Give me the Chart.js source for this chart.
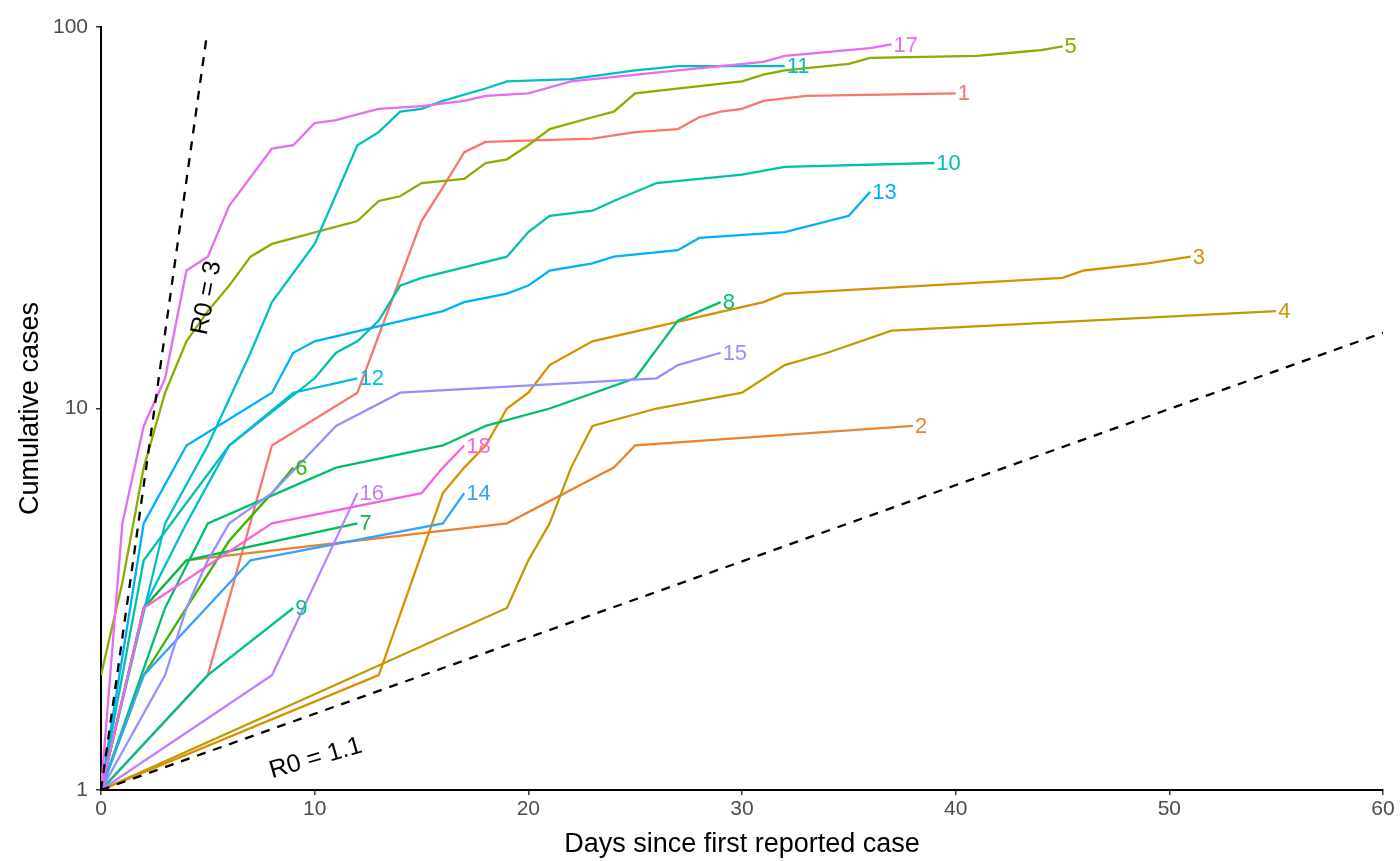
<!DOCTYPE html>
<html>
<head>
<meta charset="utf-8">
<title>Cumulative cases</title>
<script src="https://cdn.jsdelivr.net/npm/chart.js@4.4.1/dist/chart.umd.min.js"></script>
<style>
  html, body { margin: 0; padding: 0; background: #fff; }
  #wrap { width: 1400px; height: 861px; }
</style>
</head>
<body>
<div id="wrap"><canvas id="chart" width="1400" height="861"></canvas></div>
<script>
// ============================================================
// Data
// ============================================================

const seriesNames = ["1", "2", "3", "4", "5", "6", "7", "8", "9",
  "10", "11", "12", "13", "14", "15", "16", "17", "18"];

const days01 = [0, 5, 8, 12, 15, 16, 17, 18, 23, 25, 27, 28, 29, 30, 31, 33, 40];
const cases01 = [1, 2, 8, 11, 31, 38, 47, 50, 51, 53, 54, 58, 60, 61, 64, 66, 67];
const days02 = [0, 2, 4, 19, 24, 25, 38];
const cases02 = [1, 3, 4, 5, 7, 8, 9];
const days03 = [0, 13, 16, 17, 18, 19, 20, 21, 23, 31, 32, 45, 46, 49, 51];
const cases03 = [1, 2, 6, 7, 8, 10, 11, 13, 15, 19, 20, 22, 23, 24, 25];
const days04 = [0, 19, 20, 21, 22, 23, 26, 30, 32, 34, 37, 55];
const cases04 = [1, 3, 4, 5, 7, 9, 10, 11, 13, 14, 16, 18];
const days05 = [0, 1, 2, 3, 4, 5, 6, 7, 8, 12, 13, 14, 15, 17, 18, 19, 20, 21, 23, 24, 25, 28, 30, 31, 32, 35, 36, 41, 43, 44, 45];
const cases05 = [2, 3.5, 7, 11, 15, 18, 21, 25, 27, 31, 35, 36, 39, 40, 44, 45, 49, 54, 58, 60, 67, 70, 72, 75, 77, 80, 83, 84, 86, 87, 89];
const days06 = [0, 2, 4, 6, 8, 9];
const cases06 = [1, 2, 3, 4.5, 6, 7];
const days07 = [0, 2, 4, 12];
const cases07 = [1, 3, 4, 5];
const days08 = [0, 3, 5, 11, 16, 18, 21, 25, 27, 29];
const cases08 = [1, 3, 5, 7, 8, 9, 10, 12, 17, 19];
const days09 = [0, 5, 9];
const cases09 = [1, 2, 3];
const days10 = [0, 2, 6, 10, 11, 12, 13, 14, 15, 19, 20, 21, 23, 24, 26, 30, 32, 39];
const cases10 = [1, 4, 8, 12, 14, 15, 17, 21, 22, 25, 29, 32, 33, 35, 39, 41, 43, 44];
const days11 = [0, 3, 5, 7, 8, 10, 12, 13, 14, 15, 16, 18, 19, 22, 25, 27, 32];
const cases11 = [1, 5, 8, 14, 19, 27, 49, 53, 60, 61, 64, 69, 72, 73, 77, 79, 79];
const days12 = [0, 2, 4, 6, 9, 12];
const cases12 = [1, 3, 5, 8, 11, 12];
const days13 = [0, 2, 4, 8, 9, 10, 16, 17, 19, 20, 21, 23, 24, 27, 28, 32, 35, 36];
const cases13 = [1, 5, 8, 11, 14, 15, 18, 19, 20, 21, 23, 24, 25, 26, 28, 29, 32, 37];
const days14 = [0, 2, 7, 16, 17];
const cases14 = [1, 2, 4, 5, 6];
const days15 = [0, 3, 4, 5, 6, 8, 11, 14, 26, 27, 29];
const cases15 = [1, 2, 3, 4, 5, 6, 9, 11, 12, 13, 14];
const days16 = [0, 8, 12];
const cases16 = [1, 2, 6];
const days17 = [0, 1, 2, 3, 4, 5, 6, 8, 9, 10, 11, 12, 13, 15, 17, 18, 20, 22, 27, 31, 32, 36, 37];
const cases17 = [1, 5, 9, 12, 23, 25, 34, 48, 49, 56, 57, 59, 61, 62, 64, 66, 67, 72, 77, 81, 84, 88, 90];
const days18 = [0, 2, 8, 15, 16, 17];
const cases18 = [1, 3, 5, 6, 7, 8];

// reference growth lines
const r0HighDays = [0, 4.95];
const r0HighCases = [1, 95];
const r0LowDays = [0, 60];
const r0LowCases = [1, 15.8];

const xTicks = [0, 10, 20, 30, 40, 50, 60];
const yTicks = [1, 10, 100];

const seriesDays = [days01, days02, days03, days04, days05, days06, days07, days08, days09,
  days10, days11, days12, days13, days14, days15, days16, days17, days18];
const seriesCases = [cases01, cases02, cases03, cases04, cases05, cases06, cases07, cases08, cases09,
  cases10, cases11, cases12, cases13, cases14, cases15, cases16, cases17, cases18];

const seriesColors = ["#F8766D", "#EA8331", "#D89000", "#C09B00", "#8DAB00", "#39B600",
  "#00BB4E", "#00BE6C", "#00C08B", "#00C1A7", "#00BFC4", "#00BAE0", "#00B0F6", "#35A2FF",
  "#9590FF", "#BF80FF", "#E76BF3", "#FA62DB"];

// ============================================================
// Helpers
// ============================================================

const FONT = "'Liberation Sans', Arial, sans-serif";

function toPoints(xs, ys) {
  return xs.map((x, i) => ({ x: x, y: ys[i] }));
}

// direct labels at the end of each series + the R0 annotations
const endLabels = {
  id: 'endLabels',
  afterDatasetsDraw(chart) {
    const ctx = chart.ctx;
    ctx.save();
    ctx.font = '22px ' + FONT;
    ctx.textBaseline = 'middle';
    ctx.textAlign = 'left';
    seriesNames.forEach((name, i) => {
      const meta = chart.getDatasetMeta(i);
      const last = meta.data[meta.data.length - 1];
      ctx.fillStyle = seriesColors[i];
      ctx.fillText(name, last.x + 2, last.y + 1);
    });

    const xs = chart.scales.x, ys = chart.scales.y;
    ctx.fillStyle = '#000';
    ctx.font = '25px ' + FONT;
    ctx.textAlign = 'center';

    ctx.save();
    ctx.translate(xs.getPixelForValue(4.95), ys.getPixelForValue(19.5));
    ctx.rotate(-79 * Math.PI / 180);
    ctx.fillText('R0 = 3', 0, 0);
    ctx.restore();

    ctx.save();
    ctx.translate(xs.getPixelForValue(10.05), ys.getPixelForValue(1.21));
    ctx.rotate(-16 * Math.PI / 180);
    ctx.fillText('R0 = 1.1', 0, 0);
    ctx.restore();

    ctx.restore();
  }
};

// ============================================================
// Chart
// ============================================================

const datasets = seriesNames.map((name, i) => ({
  label: name,
  data: toPoints(seriesDays[i], seriesCases[i]),
  borderColor: seriesColors[i],
  borderWidth: 2.3,
  pointRadius: 0,
  fill: false,
  tension: 0,
  order: 100 - i
}));

datasets.push({
  label: 'R0 = 3',
  data: toPoints(r0HighDays, r0HighCases),
  borderColor: '#000',
  borderWidth: 2.3,
  borderDash: [9, 8],
  pointRadius: 0,
  fill: false,
  order: 0
});
datasets.push({
  label: 'R0 = 1.1',
  data: toPoints(r0LowDays, r0LowCases),
  borderColor: '#000',
  borderWidth: 2.3,
  borderDash: [9, 8],
  pointRadius: 0,
  fill: false,
  order: 0
});

new Chart(document.getElementById('chart'), {
  type: 'line',
  data: { datasets: datasets },
  options: {
    responsive: false,
    animation: false,
    layout: { padding: { top: 27, right: 17, left: 0, bottom: 0 } },
    plugins: { legend: { display: false }, tooltip: { enabled: false } },
    scales: {
      x: {
        type: 'linear',
        min: 0,
        max: 60,
        afterBuildTicks(scale) { scale.ticks = xTicks.map(v => ({ value: v })); },
        afterFit(scale) { scale.height = 71; },
        ticks: { color: '#4D4D4D', font: { family: FONT, size: 21 }, padding: 2, maxRotation: 0 },
        grid: { display: true, drawOnChartArea: false, drawTicks: true, tickLength: 5, color: '#333', lineWidth: 1.5 },
        border: { display: true, color: '#000', width: 2 },
        title: { display: true, text: 'Days since first reported case', color: '#000',
          font: { family: FONT, size: 27 }, padding: { top: 0, bottom: 0 } }
      },
      y: {
        type: 'logarithmic',
        min: 1,
        max: 100,
        afterBuildTicks(scale) { scale.ticks = yTicks.map(v => ({ value: v })); },
        afterFit(scale) { scale.width = 101; },
        ticks: { color: '#4D4D4D', font: { family: FONT, size: 21 }, padding: 8,
          callback: v => String(v) },
        grid: { display: true, drawOnChartArea: false, drawTicks: true, tickLength: 5, color: '#333', lineWidth: 1.5 },
        border: { display: true, color: '#000', width: 2 },
        title: { display: true, text: 'Cumulative cases', color: '#000',
          font: { family: FONT, size: 27 }, padding: { top: 14, bottom: 0 } }
      }
    }
  },
  plugins: [endLabels]
});
</script>
</body>
</html>
